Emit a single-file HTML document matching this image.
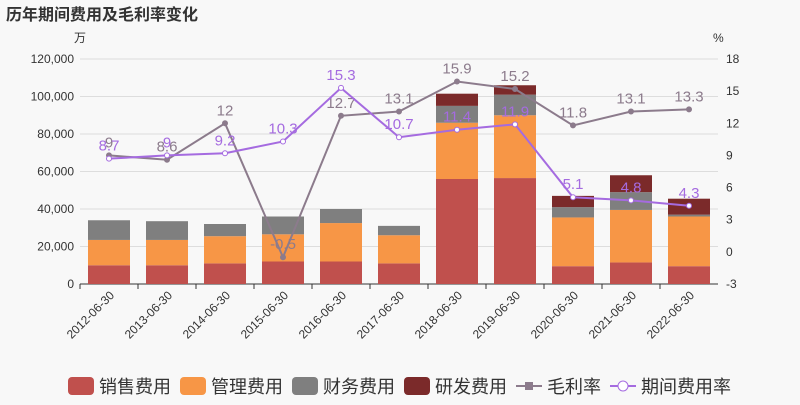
<!DOCTYPE html>
<html><head><meta charset="utf-8"><style>
body{margin:0;background:#f8f8f8;font-family:"Liberation Sans","Noto Sans CJK SC",sans-serif}
</style></head><body>
<svg id="c" width="800" height="400" xmlns="http://www.w3.org/2000/svg">
<text x="6" y="20" font-size="16" font-weight="bold" fill="#333">历年期间费用及毛利率变化</text>
<text x="74" y="42" font-size="12" fill="#333">万</text>
<text x="713" y="42" font-size="12" fill="#333">%</text>
<g id="g"></g>
</svg>
<script>
const categories=["2012-06-30","2013-06-30","2014-06-30","2015-06-30","2016-06-30","2017-06-30","2018-06-30","2019-06-30","2020-06-30","2021-06-30","2022-06-30"];
const sales=[10000,10000,11000,12000,12000,11000,56000,56500,9500,11500,9500];
const mgmt=[13500,13500,14500,14500,20500,15000,30000,33500,26000,28000,26500];
const finance=[10500,10000,6500,9500,7500,5000,9000,11000,5500,9500,1000];
const rnd=[0,0,0,0,0,0,6500,5000,6000,9000,8500];
const grossMargin=[9,8.6,12,-0.5,12.7,13.1,15.9,15.2,11.8,13.1,13.3];
const periodRate=[8.7,9,9.2,10.3,15.3,10.7,11.4,11.9,5.1,4.8,4.3];
const leftTicks=[0,20000,40000,60000,80000,100000,120000];
const rightTicks=[-3,0,3,6,9,12,15,18];
const NS="http://www.w3.org/2000/svg",g=document.getElementById('g');
const X0=80,X1=718,Y0=284,Y1=59;
const step=(X1-X0)/categories.length;
const xc=i=>X0+step*(i+0.5);
const yl=v=>Y0-(v/120000)*(Y0-Y1);
const yr=v=>Y0-((v+3)/21)*(Y0-Y1);
function el(t,a,txt){const e=document.createElementNS(NS,t);for(const k in a)e.setAttribute(k,a[k]);if(txt!==undefined)e.textContent=txt;g.appendChild(e);return e;}
leftTicks.forEach(v=>{
 const l=el('line',{x1:X0,x2:X1,y1:yl(v),y2:yl(v),stroke:v===0?'#333':'#ddd'});
 
 const t=el('text',{x:X0-6,y:yl(v)+4,'text-anchor':'end','font-size':12,fill:'#333'},v.toLocaleString('en-US'));
 
});
rightTicks.forEach(v=>{
 const t=el('text',{x:X1+8,y:yr(v)+4,'font-size':12,fill:'#333'},String(v));
 
});
const series=[[sales,'#c0504d','sales'],[mgmt,'#f79646','mgmt'],[finance,'#7f7f7f','finance'],[rnd,'#7b2a2a','rnd']];
const bw=42;
categories.forEach((c,i)=>{
 let acc=0;
 series.forEach(([arr,col,n])=>{
  if(arr[i]>0){const r=el('rect',{x:xc(i)-bw/2,y:yl(acc+arr[i]),width:bw,height:yl(acc)-yl(acc+arr[i]),fill:col});
  }
  acc+=arr[i];
 });
 const tk=el('line',{x1:X0+step*i,x2:X0+step*i,y1:Y0,y2:Y0+5,stroke:'#333'});
 
 const t=el('text',{x:xc(i)+6,y:Y0+12,'text-anchor':'end','font-size':12,fill:'#333',transform:`rotate(-45 ${xc(i)+6} ${Y0+12})`},c);
 
});
function line(arr,col,n,filled){
 const p=el('polyline',{points:arr.map((v,i)=>xc(i)+','+yr(v)).join(' '),fill:'none',stroke:col,'stroke-width':2});
 
 arr.forEach((v,i)=>{
  const m=el('circle',{cx:xc(i),cy:yr(v),r:2.5,fill:filled?col:'#fff',stroke:col});
  
  const t=el('text',{x:xc(i),y:yr(v)-8,'text-anchor':'middle','font-size':15,fill:col},String(v));
  
 });
}
line(grossMargin,'#8c7b8c','gross-margin',true);
line(periodRate,'#a56be0','period-rate',false);
const leg=[['销售费用','#c0504d','r'],['管理费用','#f79646','r'],['财务费用','#7f7f7f','r'],['研发费用','#7b2a2a','r'],['毛利率','#8c7b8c','l'],['期间费用率','#a56be0','o']];
let lx=68;
leg.forEach(([name,col,k])=>{
 if(k==='r'){const r=el('rect',{x:lx,y:377,width:26,height:18,rx:4,fill:col});}
 else{el('line',{x1:lx,x2:lx+26,y1:386,y2:386,stroke:col,'stroke-width':2});
  const m=k==='l'?el('rect',{x:lx+9,y:382,width:8,height:8,fill:col}):el('circle',{cx:lx+13,cy:386,r:5,fill:'#fff',stroke:col});
  }
 const t=el('text',{x:lx+31,y:393,'font-size':18,fill:'#333'},name);
 
 lx+=31+name.length*18+9;
});
</script>
</body></html>
